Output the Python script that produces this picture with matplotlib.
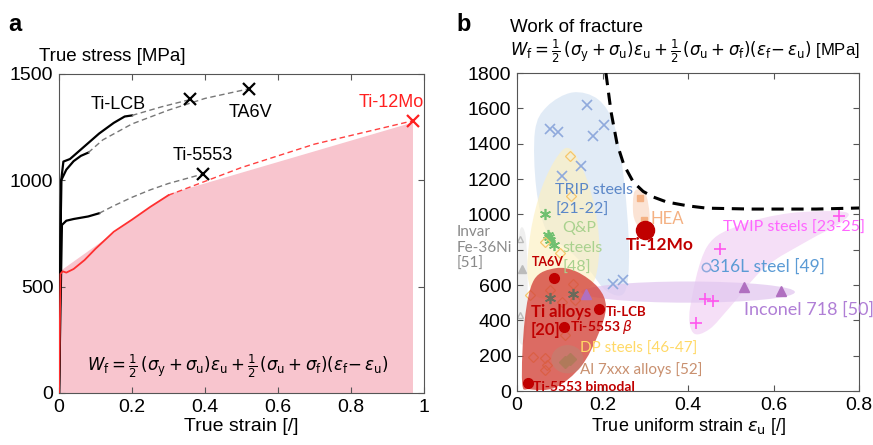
import numpy as np
import matplotlib
matplotlib.use('Agg')
from matplotlib import pyplot as plt
from matplotlib.path import Path
from matplotlib.patches import PathPatch, Ellipse

plt.rcParams['font.family'] = ['Liberation Sans', 'DejaVu Sans']
plt.rcParams['mathtext.fontset'] = 'dejavusans'

# ---- panel a : stress-strain curves ----
mo_strain = [0, 0.004, 0.01, 0.02, 0.04, 0.07, 0.1, 0.15, 0.2, 0.25, 0.3]
mo_stress = [0, 560, 572, 566, 583, 625, 678, 758, 815, 875, 930]
mo_ext_strain = [0.3, 0.5, 0.7, 0.97]
mo_ext_stress = [930, 1060, 1170, 1280]
mo_fill_strain = [0, 0.005, 0.3, 0.97, 0.97]
mo_fill_stress = [0, 575, 935, 1272, 0]

lcb_strain = [0, 0.006, 0.012, 0.03, 0.05, 0.08, 0.11, 0.15, 0.18, 0.2]
lcb_stress = [0, 1000, 1088, 1100, 1130, 1175, 1220, 1270, 1300, 1305]
lcb_ext_strain = [0.2, 0.28, 0.36]
lcb_ext_stress = [1305, 1345, 1380]

ta6v_strain = [0, 0.006, 0.02, 0.04, 0.06, 0.08]
ta6v_stress = [0, 1000, 1050, 1090, 1115, 1130]
ta6v_ext_strain = [0.08, 0.12, 0.2, 0.3, 0.4, 0.52]
ta6v_ext_stress = [1130, 1190, 1265, 1330, 1385, 1430]

t5553_strain = [0, 0.008, 0.02, 0.04, 0.08, 0.11]
t5553_stress = [0, 790, 810, 818, 830, 845]
t5553_ext_strain = [0.11, 0.15, 0.2, 0.25, 0.3, 0.395]
t5553_ext_stress = [845, 880, 920, 955, 985, 1030]

# ---- panel b : work of fracture map ----
limit_x = [0.208, 0.22, 0.234, 0.25, 0.272, 0.295, 0.319, 0.35, 0.4, 0.444, 0.55, 0.7, 0.8]
limit_y = [1800, 1580, 1400, 1280, 1183, 1130, 1098, 1070, 1048, 1035, 1030, 1030, 1036]

trip_x = [0.078, 0.097, 0.164, 0.178, 0.203, 0.150, 0.105, 0.224, 0.249]
trip_y = [1485, 1466, 1617, 1441, 1507, 1274, 1217, 607, 630]
qp_x = [0.065, 0.072, 0.078, 0.086, 0.074]
qp_y = [1000, 885, 857, 824, 870]
qp_dark_x = [0.078, 0.132]
qp_dark_y = [527, 551]
dp_x = [0.124, 0.126, 0.065, 0.10, 0.031, 0.077, 0.105, 0.132, 0.112, 0.037, 0.066, 0.066, 0.07, 0.136]
dp_y = [1330, 1104, 843, 781, 541, 571, 504, 607, 317, 192, 187, 119, 150, 515]
invar_open_x = [0.008, 0.008]
invar_open_y = [862, 428]
invar_full_x = [0.012]
invar_full_y = [692]
hea_x = [0.287, 0.296]
hea_y = [1092, 966]
twip_x = [0.752, 0.474, 0.44, 0.458, 0.419]
twip_y = [989, 806, 523, 509, 385]
inconel_x = [0.162, 0.53, 0.617]
inconel_y = [550, 590, 565]
al_x = [0.113, 0.125]
al_y = [165, 180]
ti_x = [0.086, 0.192, 0.111, 0.025]
ti_y = [640, 462, 362, 45]
ti12mo_x = [0.30]
ti12mo_y = [909]
ss316_x = [0.442]
ss316_y = [702]
b_yticks = [0, 200, 400, 600, 800, 1000, 1200, 1400, 1600, 1800]
b_ylabels = ['0', '200', '400', '600', '', '1000', '1200', '1400', '1600', '1800']

# region outlines (decorative blobs)
trip_blob = [(0.042, 1470), (0.07, 1610), (0.13, 1690), (0.19, 1650), (0.228, 1500),
             (0.25, 1200), (0.262, 800), (0.252, 560), (0.21, 565), (0.17, 680),
             (0.12, 800), (0.07, 900), (0.045, 1150)]
qp_blob = [(0.125, 1370), (0.16, 1220), (0.185, 1000), (0.192, 780), (0.175, 600),
           (0.12, 540), (0.05, 530), (0.025, 650), (0.032, 900), (0.058, 1150), (0.095, 1330)]
invar_blob = [(0.006, 900), (0.02, 880), (0.025, 600), (0.02, 300), (0.004, 300), (0.002, 600)]
hea_blob = [(0.275, 1130), (0.3, 1120), (0.31, 1000), (0.305, 930), (0.285, 930), (0.272, 1000)]
twip_blob = [(0.412, 330), (0.405, 475), (0.444, 815), (0.522, 939), (0.639, 1007),
             (0.767, 1013), (0.756, 951), (0.68, 850), (0.58, 700), (0.5, 480), (0.45, 350)]
ti_blob = [(0.09, 695), (0.14, 675), (0.19, 585), (0.208, 475), (0.19, 320),
           (0.15, 140), (0.09, 20), (0.03, 10), (0.012, 50), (0.018, 400), (0.04, 630)]


def smooth_patch(pts, **kw):
    # closed Catmull-Rom outline converted to cubic Bezier segments
    p = np.array(pts, dtype=float)
    n = len(p)
    verts = [p[0]]
    codes = [Path.MOVETO]
    for i in range(n):
        p0, p1, p2, p3 = p[i - 1], p[i], p[(i + 1) % n], p[(i + 2) % n]
        verts += [p1 + (p2 - p0) / 6.0, p2 - (p3 - p1) / 6.0, p2]
        codes += [Path.CURVE4] * 3
    return PathPatch(Path(verts, codes), **kw)


fig = plt.figure(figsize=(8.73, 4.45), dpi=100)

## Panel a
ax = fig.add_axes([0.0676, 0.1169, 0.418, 0.7169])
ax.fill(mo_fill_strain, mo_fill_stress, color='#f8c5ce', lw=0, zorder=1)
for (xs, ys, xe, ye) in [(lcb_strain, lcb_stress, lcb_ext_strain, lcb_ext_stress),
                         (ta6v_strain, ta6v_stress, ta6v_ext_strain, ta6v_ext_stress),
                         (t5553_strain, t5553_stress, t5553_ext_strain, t5553_ext_stress)]:
    ax.plot(xs, ys, color='black', lw=1.6, zorder=3)
    ax.plot(xe, ye, color='#777777', lw=1.0, ls=(0, (4, 2.5)), zorder=3)
    ax.plot(xe[-1], ye[-1], marker='x', color='black', ms=8, mew=1.6, zorder=4)
ax.plot(mo_strain, mo_stress, color='#ff3030', lw=1.3, zorder=4)
ax.plot(mo_ext_strain, mo_ext_stress, color='#ff4040', lw=1.0, ls=(0, (4, 2.5)), zorder=4)
ax.plot(mo_ext_strain[-1], mo_ext_stress[-1], marker='x', color='#ff2020', ms=8, mew=1.6, zorder=5)

ax.text(0.163, 1355, 'Ti-LCB', fontsize=13, ha='center', va='center')
ax.text(0.525, 1318, 'TA6V', fontsize=13, ha='center', va='center')
ax.text(0.395, 1115, 'Ti-5553', fontsize=13, ha='center', va='center')
ax.text(0.91, 1365, 'Ti-12Mo', fontsize=13, ha='center', va='center', color='#ff2020')
ax.text(0.49, 125, r'$W_\mathrm{f} = \frac{1}{2}\,(\sigma_\mathrm{y} + \sigma_\mathrm{u})\epsilon_\mathrm{u} + \frac{1}{2}\,(\sigma_\mathrm{u} + \sigma_\mathrm{f})(\epsilon_\mathrm{f}\!-\epsilon_\mathrm{u})$',
        fontsize=12, ha='center', va='center', zorder=6)

ax.set_xlim(0, 1)
ax.set_ylim(0, 1500)
ax.set_xticks([0, 0.2, 0.4, 0.6, 0.8, 1])
ax.set_xticklabels(['0', '0.2', '0.4', '0.6', '0.8', '1'])
ax.set_yticks([0, 500, 1000, 1500])
ax.set_xlabel('True strain [/]', fontsize=14, labelpad=2)
ax.tick_params(direction='in', top=True, right=True, labelsize=14, length=4, color='#555555', pad=4)
for sp in ax.spines.values():
    sp.set_color('#555555')
fig.text(0.045, 0.874, 'True stress [MPa]', fontsize=13.5, ha='left', va='center')
fig.text(0.010, 0.945, 'a', fontsize=17, fontweight='bold', ha='left', va='center')

## Panel b
bx = fig.add_axes([0.5922, 0.1213, 0.3918, 0.7146])
bx.add_patch(smooth_patch(invar_blob, facecolor='#eeeeee', edgecolor='none', alpha=0.9, zorder=1))
bx.add_patch(smooth_patch(trip_blob, facecolor='#dce8f5', edgecolor='none', alpha=0.85, zorder=1))
bx.add_patch(smooth_patch(qp_blob, facecolor='#fdf0c0', edgecolor='none', alpha=0.65, zorder=1))
bx.add_patch(smooth_patch(hea_blob, facecolor='#fbe0d0', edgecolor='none', alpha=0.9, zorder=1))
bx.add_patch(smooth_patch(twip_blob, facecolor='#f3d7f5', edgecolor='none', alpha=0.8, zorder=1))
bx.add_patch(Ellipse((0.40, 560), 0.50, 120, facecolor='#e2c8f0', edgecolor='none', alpha=0.75, zorder=1))

bx.plot(trip_x, trip_y, 'x', color='#8fa9dc', ms=7, mew=1.2, zorder=2)
bx.plot(qp_x, qp_y, marker=(6, 2, 0), ls='none', color='#70c070', ms=8, mew=1.2, zorder=2)
bx.plot(dp_x, dp_y, 'D', mfc='none', mec='#f6c66a', ms=5, mew=0.9, zorder=2)
bx.plot(invar_open_x, invar_open_y, '^', mfc='none', mec='#bbbbbb', ms=5, zorder=2)
bx.plot(invar_full_x, invar_full_y, '^', color='#bbbbbb', ms=6, zorder=2)

bx.add_patch(smooth_patch(ti_blob, facecolor='#d4463c', edgecolor='none', alpha=0.8, zorder=3))
bx.add_patch(Ellipse((0.118, 180), 0.075, 160, facecolor='#b58a78', edgecolor='none', alpha=0.45, zorder=3))

bx.plot(qp_dark_x, qp_dark_y, marker=(6, 2, 0), ls='none', color='#6a6a5a', ms=8, mew=1.2, zorder=4)
bx.plot(al_x, al_y, 'D', color='#b07a5a', ms=6, zorder=4)
bx.plot(hea_x, hea_y, 's', color='#f4b183', ms=5, zorder=4)
bx.plot(twip_x, twip_y, '+', color='#ff55ee', ms=8, mew=1.2, zorder=4)
bx.plot(inconel_x, inconel_y, '^', color='#b070c0', ms=7, zorder=4)
bx.plot(ss316_x, ss316_y, 'o', mfc='none', mec='#8fa9dc', ms=6, mew=1.1, zorder=4)
bx.plot(ti_x, ti_y, 'o', color='#c00000', ms=7, zorder=5)
bx.plot(ti12mo_x, ti12mo_y, 'o', color='#c00000', ms=13, zorder=5)
bx.plot(limit_x, limit_y, color='black', lw=2.2, ls=(0, (4, 2.5)), zorder=6)

lf = ['Lato', 'DejaVu Sans']
bx.text(0.09, 1136, 'TRIP steels', color='#5b87c8', fontsize=11.5, family=lf, va='center', zorder=7)
bx.text(0.09, 1026, '[21-22]', color='#5b87c8', fontsize=11.5, family=lf, va='center', zorder=7)
bx.text(0.105, 923, 'Q&P', color='#a9d18e', fontsize=11.5, family=lf, va='center', zorder=7)
bx.text(0.107, 811, 'steels', color='#a9d18e', fontsize=11.5, family=lf, va='center', zorder=7)
bx.text(0.107, 700, '[48]', color='#a9d18e', fontsize=11.5, family=lf, va='center', zorder=7)
bx.text(0.035, 730, 'TA6V', color='#c00000', fontsize=9, family=lf, fontweight='bold', va='center', zorder=7)
bx.text(0.033, 447, 'Ti alloys', color='#c00000', fontsize=12, family=lf, fontweight='bold', va='center', zorder=7)
bx.text(0.033, 343, '[20]', color='#c00000', fontsize=12, family=lf, fontweight='bold', va='center', zorder=7)
bx.text(0.208, 447, 'Ti-LCB', color='#c00000', fontsize=9.5, family=lf, fontweight='bold', va='center', zorder=7)
bx.text(0.123, 360, r'Ti-5553 $\beta$', color='#c00000', fontsize=10, family=lf, fontweight='bold', va='center', zorder=7)
bx.text(0.148, 236, 'DP steels [46-47]', color='#ffd966', fontsize=11, family=lf, va='center', zorder=7)
bx.text(0.148, 124, 'Al 7xxx alloys [52]', color='#c9906f', fontsize=11, family=lf, va='center', zorder=7)
bx.text(0.037, 25, 'Ti-5553 bimodal', color='#c00000', fontsize=10, family=lf, fontweight='bold', va='center', zorder=7)
bx.text(0.312, 975, 'HEA', color='#f4b183', fontsize=12, family=lf, va='center', zorder=7)
bx.text(0.255, 825, 'Ti-12Mo', color='#c00000', fontsize=12.5, family=lf, fontweight='bold', va='center', zorder=7)
bx.text(0.481, 925, 'TWIP steels [23-25]', color='#ff66ff', fontsize=11.5, family=lf, va='center', zorder=7)
bx.text(0.452, 706, '316L steel [49]', color='#5b9bd5', fontsize=12.5, family=lf, va='center', zorder=7)
bx.text(0.532, 460, 'Inconel 718 [50]', color='#b07fd6', fontsize=13, family=lf, va='center', zorder=7)
fig.text(0.5225, 0.443, 'Invar\nFe-36Ni\n[51]', color='#8a8a8a', fontsize=11, family=lf,
         ha='left', va='center', linespacing=1.2)

bx.set_xlim(0, 0.8)
bx.set_ylim(0, 1800)
bx.set_xticks([0, 0.2, 0.4, 0.6, 0.8])
bx.set_xticklabels(['0', '0.2', '0.4', '0.6', '0.8'])
bx.set_yticks(b_yticks)
bx.set_yticklabels(b_ylabels)
bx.set_xlabel(r'True uniform strain $\epsilon_\mathrm{u}$ [/]', fontsize=13, labelpad=2)
bx.tick_params(direction='in', top=True, right=True, labelsize=14, length=4, color='#555555', pad=4)
for sp in bx.spines.values():
    sp.set_color('#555555')
fig.text(0.584, 0.938, 'Work of fracture', fontsize=13.5, ha='left', va='center')
fig.text(0.584, 0.884, r'$W_\mathrm{f} = \frac{1}{2}\,(\sigma_\mathrm{y} + \sigma_\mathrm{u})\epsilon_\mathrm{u} + \frac{1}{2}\,(\sigma_\mathrm{u} + \sigma_\mathrm{f})(\epsilon_\mathrm{f}\!-\epsilon_\mathrm{u})$ [MPa]',
         fontsize=12, ha='left', va='center')
fig.text(0.523, 0.945, 'b', fontsize=17, fontweight='bold', ha='left', va='center')

fig.savefig('out.png', dpi=100)
